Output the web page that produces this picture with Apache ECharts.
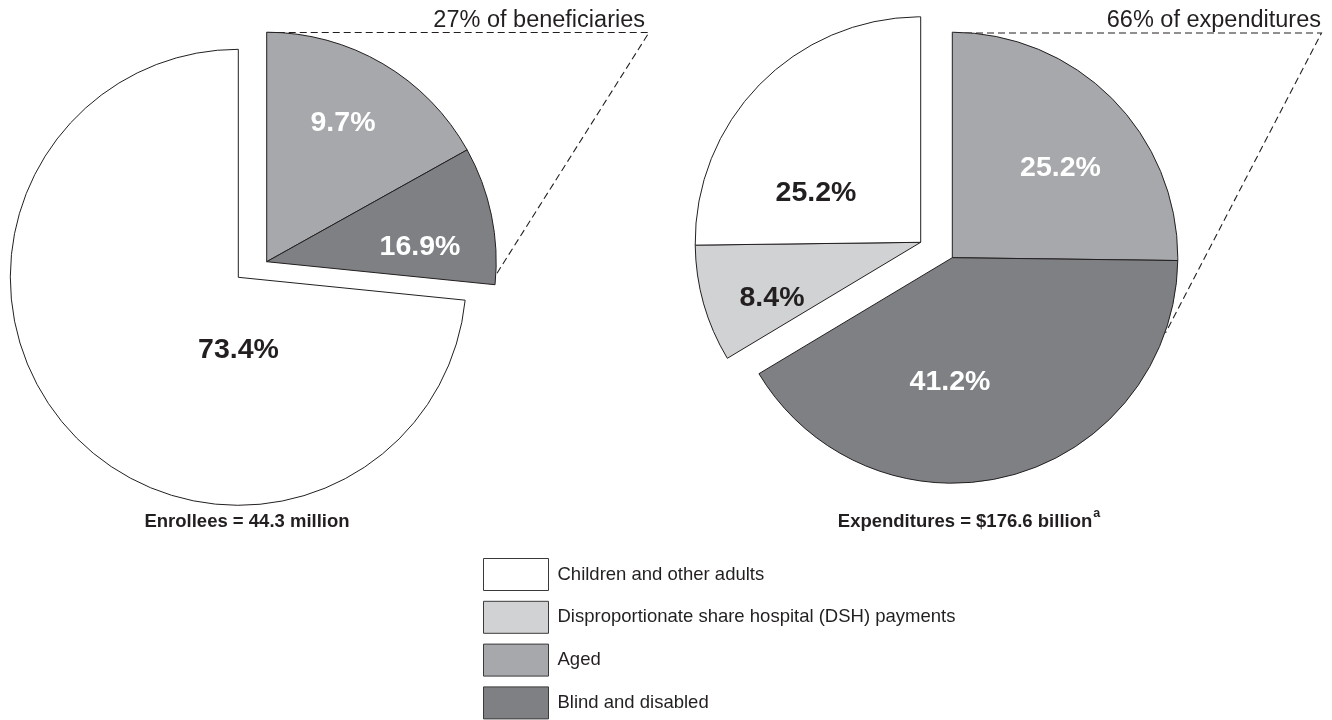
<!DOCTYPE html>
<html>
<head>
<meta charset="utf-8">
<script src="https://cdn.jsdelivr.net/npm/echarts@6/dist/echarts.min.js"></script>
<style>
  html, body { margin: 0; padding: 0; background: #fff; }
  #chart { width: 1332px; height: 720px; }
</style>
</head>
<body>
<div id="chart"></div>
<script>
// ---------- data ----------
const categories = ['Children and other adults', 'Disproportionate share hospital (DSH) payments', 'Aged', 'Blind and disabled'];

// Enrollees pie (clockwise from 12 o'clock). Slice sizes as drawn; printed labels as shown in the figure.
const enrolleeNames  = ['Aged', 'Blind and disabled', 'Children and other adults'];
const enrolleeValues = [16.9, 9.7, 73.4];
const enrolleeLabels = ['9.7%', '16.9%', '73.4%'];

// Expenditures pie (clockwise from 12 o'clock)
const expenditureNames  = ['Aged', 'Blind and disabled', 'Disproportionate share hospital (DSH) payments', 'Children and other adults'];
const expenditureValues = [25.2, 41.2, 8.4, 25.2];
const expenditureLabels = ['25.2%', '41.2%', '8.4%', '25.2%'];

const enrolleeCaption = 'Enrollees = 44.3 million';
const expenditureCaption = 'Expenditures = $176.6 billion';
const beneficiaryNote = '27% of beneficiaries';
const expenditureNote = '66% of expenditures';

// ---------- style ----------
const FONT = '"Liberation Sans", Arial, Helvetica, sans-serif';
const INK = '#231f20';
const colors = {
  'Children and other adults': '#ffffff',
  'Disproportionate share hospital (DSH) payments': '#d1d2d4',
  'Aged': '#a7a8ab',
  'Blind and disabled': '#7f8084'
};
const labelColors = {
  'Children and other adults': INK,
  'Disproportionate share hospital (DSH) payments': INK,
  'Aged': '#ffffff',
  'Blind and disabled': '#ffffff'
};

// label anchor positions (layout only)
const labelPos = {
  0: { 'Children and other adults': [238.5, 350] },
  1: { 'Aged': [343, 123], 'Blind and disabled': [420, 247] },
  2: { 'Children and other adults': [816, 193], 'Disproportionate share hospital (DSH) payments': [772, 298] },
  3: { 'Aged': [1060.5, 168.5], 'Blind and disabled': [950, 382] }
};

function buildData(names, values, labels, visibleSet) {
  return names.map((n, i) => {
    const vis = visibleSet.indexOf(n) >= 0;
    return {
      name: n,
      value: values[i],
      itemStyle: vis
        ? { color: colors[n], borderColor: INK, borderWidth: 1 }
        : { color: 'rgba(0,0,0,0)', borderWidth: 0 },
      label: {
        show: vis,
        formatter: labels[i],
        color: labelColors[n]
      }
    };
  });
}

function pieSeries(center, radius, data) {
  return {
    type: 'pie',
    center: center,
    radius: radius,
    startAngle: 90,
    clockwise: true,
    silent: true,
    animation: false,
    avoidLabelOverlap: false,
    legendHoverLink: false,
    label: {
      position: 'inside',
      fontFamily: FONT,
      fontWeight: 'bold',
      fontSize: 28.5
    },
    labelLine: { show: false },
    emphasis: { disabled: true },
    data: data
  };
}

const series = [
  pieSeries([238.3, 277.3], 228, buildData(enrolleeNames, enrolleeValues, enrolleeLabels, ['Children and other adults'])),
  pieSeries([266.7, 261.7], 229.5, buildData(enrolleeNames, enrolleeValues, enrolleeLabels, ['Aged', 'Blind and disabled'])),
  pieSeries([920.7, 242.3], 225.5, buildData(expenditureNames, expenditureValues, expenditureLabels, ['Children and other adults', 'Disproportionate share hospital (DSH) payments'])),
  pieSeries([952.3, 257.7], 225.5, buildData(expenditureNames, expenditureValues, expenditureLabels, ['Aged', 'Blind and disabled']))
];
series.forEach((s, si) => {
  s.labelLayout = function (params) {
    const name = s.data[params.dataIndex].name;
    const p = labelPos[si][name];
    if (!p) return {};
    return { x: p[0], y: p[1], align: 'center', verticalAlign: 'middle' };
  };
});

const dashStyle = { stroke: INK, lineWidth: 1.1, lineDash: [7, 4], fill: null };

const option = {
  backgroundColor: '#ffffff',
  animation: false,
  legend: {
    show: true,
    orient: 'vertical',
    left: 483,
    top: 558,
    width: 600,
    height: 200,
    padding: 0,
    itemWidth: 65,
    itemHeight: 32,
    itemGap: 9.8,
    selectedMode: false,
    icon: 'rect',
    textStyle: { fontFamily: FONT, fontSize: 18.5, color: INK, padding: [0, 0, 0, 4] },
    data: categories.map(n => ({
      name: n,
      icon: 'rect',
      itemStyle: { color: colors[n], borderColor: '#3a3a3a', borderWidth: 1 }
    }))
  },
  graphic: [
    { type: 'polyline', silent: true, shape: { points: [[266.7, 32.5], [649, 32.5], [494, 278]] }, style: dashStyle },
    { type: 'polyline', silent: true, shape: { points: [[954, 33], [1321.5, 33], [1165.5, 333]] }, style: dashStyle },
    { type: 'text', silent: true, x: 645, y: 33,
      style: { text: beneficiaryNote, fontFamily: FONT, fontSize: 23.5, fill: INK, textAlign: 'right', textVerticalAlign: 'bottom' } },
    { type: 'text', silent: true, x: 1321, y: 33,
      style: { text: expenditureNote, fontFamily: FONT, fontSize: 23.5, fill: INK, textAlign: 'right', textVerticalAlign: 'bottom' } },
    { type: 'text', silent: true, x: 247, y: 522,
      style: { text: enrolleeCaption, fontFamily: FONT, fontSize: 18.5, fontWeight: 'bold', fill: INK, textAlign: 'center', textVerticalAlign: 'middle' } },
    { type: 'text', silent: true, x: 969, y: 519,
      style: {
        text: '{m|' + expenditureCaption + '}{s|a}',
        textAlign: 'center', textVerticalAlign: 'middle',
        rich: {
          m: { fontFamily: FONT, fontSize: 18.5, fontWeight: 'bold', fill: INK, color: INK, lineHeight: 24, verticalAlign: 'bottom' },
          s: { fontFamily: FONT, fontSize: 12.5, fontWeight: 'bold', fill: INK, color: INK, lineHeight: 24, verticalAlign: 'top', padding: [0, 0, 0, 1] }
        }
      } }
  ],
  series: series
};

const chart = echarts.init(document.getElementById('chart'), null, { renderer: 'canvas' });
chart.setOption(option);
</script>
</body>
</html>
